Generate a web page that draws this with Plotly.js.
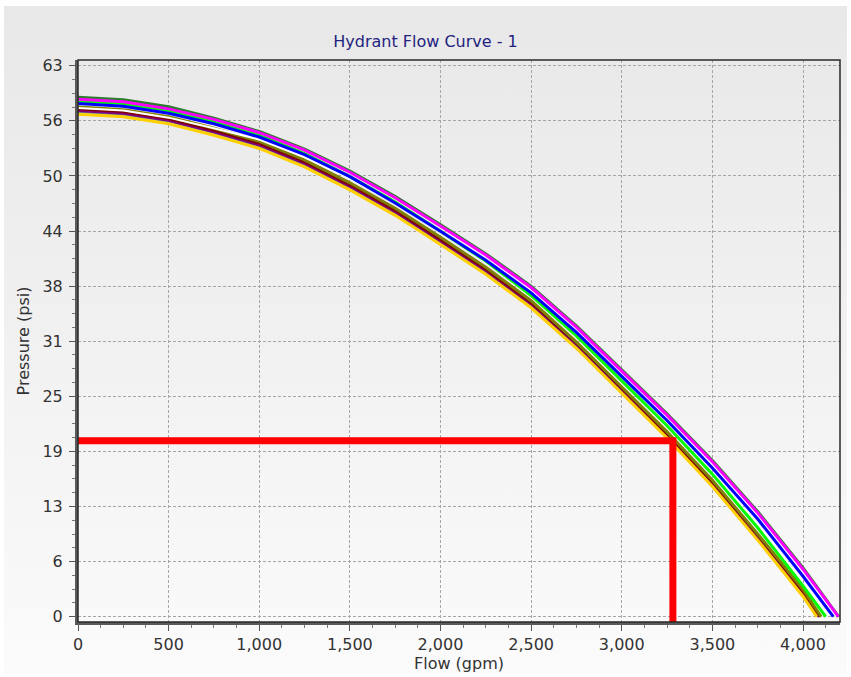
<!DOCTYPE html>
<html>
<head>
<meta charset="utf-8">
<script src="https://cdn.plot.ly/plotly-3.0.1.min.js"></script>
<style>
  html, body { margin: 0; padding: 0; background: #ffffff; width: 851px; height: 677px; overflow: hidden; }
  #wrap { position: absolute; left: 4px; top: 6px; width: 843px; height: 668px;
          background: linear-gradient(to bottom, #e8e8e8 0%, #f1f1f1 50%, #fbfbfb 100%); }
  #chart { width: 843px; height: 668px; }
</style>
</head>
<body>
<div id="wrap"><div id="chart"></div></div>
<script>
// Flow grid (gpm) shared by all curves, then each curve's end flow at 0 psi
const flowGrid = [0, 250, 500, 750, 1000, 1250, 1500, 1750, 2000, 2250, 2500, 2750, 3000, 3250, 3500, 3750, 4000];

// Pressures (psi) read at the flow grid
const darkGreenP = [59.0, 58.7, 57.9, 56.6, 55.1, 53.1, 50.6, 47.7, 44.5, 41.2, 37.5, 33.0, 28.0, 23.0, 17.7, 11.9, 5.5];
const goldP      = [57.1, 56.8, 56.0, 54.7, 53.2, 51.1, 48.5, 45.6, 42.3, 38.9, 35.1, 30.5, 25.4, 20.3, 14.8, 8.7, 2.3];
const tealP      = [57.4, 57.1, 56.3, 55.0, 53.5, 51.4, 48.8, 45.9, 42.6, 39.1, 35.3, 30.7, 25.6, 20.4, 14.9, 8.9, 2.6];
const purpleP    = [57.5, 57.2, 56.4, 55.1, 53.6, 51.5, 48.9, 46.0, 42.7, 39.3, 35.5, 30.9, 25.8, 20.6, 15.1, 9.1, 2.8];
const maroonP    = [57.7, 57.4, 56.6, 55.3, 53.8, 51.7, 49.1, 46.2, 42.9, 39.5, 35.7, 31.1, 26.0, 20.8, 15.3, 9.3, 2.9];
const oliveP     = [57.9, 57.6, 56.8, 55.5, 54.0, 51.9, 49.3, 46.4, 43.1, 39.7, 35.9, 31.2, 26.1, 21.0, 15.5, 9.4, 3.1];
const whiteP     = [57.8, 57.5, 56.7, 55.5, 54.2, 52.2, 49.8, 47.0, 43.9, 40.6, 37.0, 32.5, 27.6, 22.6, 17.3, 11.5, 5.0];
const greenP     = [58.6, 58.3, 57.5, 56.2, 54.7, 52.6, 50.0, 47.1, 43.8, 40.4, 36.5, 31.9, 26.8, 21.7, 16.2, 10.1, 3.5];
const blueP      = [58.3, 58.0, 57.2, 56.0, 54.5, 52.5, 50.0, 47.0, 43.8, 40.5, 36.8, 32.3, 27.3, 22.3, 16.9, 11.1, 4.6];
const magentaP   = [58.8, 58.5, 57.7, 56.5, 55.0, 53.0, 50.5, 47.6, 44.4, 41.1, 37.4, 32.9, 27.9, 22.9, 17.6, 11.8, 5.4];

// Flow at zero pressure for each curve
const endFlows = { darkGreen: 4195, gold: 4076, teal: 4085, purple: 4090, maroon: 4095, olive: 4100, white: 4181, green: 4125, blue: 4167, magenta: 4195 };

// Red design point lines
const redFlow = [0, 3282, 3282];
const redPressure = [20.0, 20.0, -0.6];

// Axis ticks
const yTickVals = [0, 6.26, 12.52, 18.78, 25.04, 31.3, 37.56, 43.82, 50.08, 56.34, 62.6];
const yTickText = ['0', '6', '13', '19', '25', '31', '38', '44', '50', '56', '63'];
const xTickVals = [0, 500, 1000, 1500, 2000, 2500, 3000, 3500, 4000];
const xTickText = ['0', '500', '1,000', '1,500', '2,000', '2,500', '3,000', '3,500', '4,000'];

const seriesDefs = [
  ['darkGreen', darkGreenP, '#2e7d2e', 3.5],
  ['teal',      tealP,      '#5f8f9f', 3],
  ['purple',    purpleP,    '#800080', 3],
  ['maroon',    maroonP,    '#800000', 3],
  ['olive',     oliveP,     '#808000', 3],
  ['gold',      goldP,      '#ffd000', 3],
  ['white',     whiteP,     '#ffffff', 2],
  ['green',     greenP,     '#00ff00', 3],
  ['blue',      blueP,      '#0000ff', 3],
  ['magenta',   magentaP,   '#ff00ff', 3]
];

const traces = seriesDefs.map(([name, p, color, w]) => ({
  type: 'scatter', mode: 'lines', name: name,
  x: flowGrid.concat([endFlows[name]]),
  y: p.concat([0]),
  line: { color: color, width: w },
  hoverinfo: 'skip'
}));

traces.push({
  type: 'scatter', mode: 'lines', name: 'design',
  x: redFlow, y: redPressure,
  line: { color: '#ff0000', width: 7 },
  cliponaxis: false,
  hoverinfo: 'skip'
});

const fontFam = 'DejaVu Sans, sans-serif';

const layout = {
  width: 843, height: 668,
  margin: { l: 74, r: 7, t: 54, b: 52, pad: 0 },
  paper_bgcolor: 'rgba(0,0,0,0)',
  plot_bgcolor: 'rgba(0,0,0,0)',
  showlegend: false,
  font: { family: fontFam, size: 16, color: '#333333' },
  title: {
    text: 'Hydrant Flow Curve - 1',
    font: { family: fontFam, size: 16, color: '#23237f' },
    x: 0.5, xref: 'container', xanchor: 'center',
    y: 0.947, yref: 'container', yanchor: 'middle'
  },
  xaxis: {
    range: [0, 4204],
    tickmode: 'array', tickvals: xTickVals, ticktext: xTickText,
    ticks: 'outside', ticklen: 6, tickwidth: 1, tickcolor: '#555555',
    showgrid: true, gridcolor: '#a6a6a6', griddash: '3px,2px', gridwidth: 1,
    zeroline: false,
    showline: true, linecolor: '#5a5a5a', linewidth: 3,
    minor: { tickmode: 'linear', tick0: 0, dtick: 125, ticks: 'outside', ticklen: 3, tickcolor: '#777777', showgrid: false },
    tickfont: { family: fontFam, size: 16, color: '#333333' },
    title: { text: 'Flow (gpm)', font: { family: fontFam, size: 16, color: '#333333' }, standoff: 3 }
  },
  yaxis: {
    range: [-0.6, 63.25],
    tickmode: 'array', tickvals: yTickVals, ticktext: yTickText,
    ticks: 'outside', ticklen: 6, tickwidth: 1, tickcolor: '#555555',
    ticklabelstandoff: 3,
    showgrid: true, gridcolor: '#a6a6a6', griddash: '3px,2px', gridwidth: 1,
    zeroline: false,
    showline: true, linecolor: '#5a5a5a', linewidth: 3,
    minor: { tickmode: 'linear', tick0: 0, dtick: 1.565, ticks: 'outside', ticklen: 3, tickcolor: '#777777', showgrid: false },
    tickfont: { family: fontFam, size: 16, color: '#333333' },
    title: { text: 'Pressure (psi)', font: { family: fontFam, size: 16, color: '#333333' }, standoff: 9 }
  },
  shapes: [
    { type: 'rect', xref: 'paper', yref: 'paper', x0: 0, x1: 1, y0: 0, y1: 1,
      line: { color: '#2a2a2a', width: 1.5 }, fillcolor: 'rgba(0,0,0,0)', layer: 'above' }
  ]
};

Plotly.newPlot('chart', traces, layout, { displayModeBar: false, staticPlot: true });
</script>
</body>
</html>
